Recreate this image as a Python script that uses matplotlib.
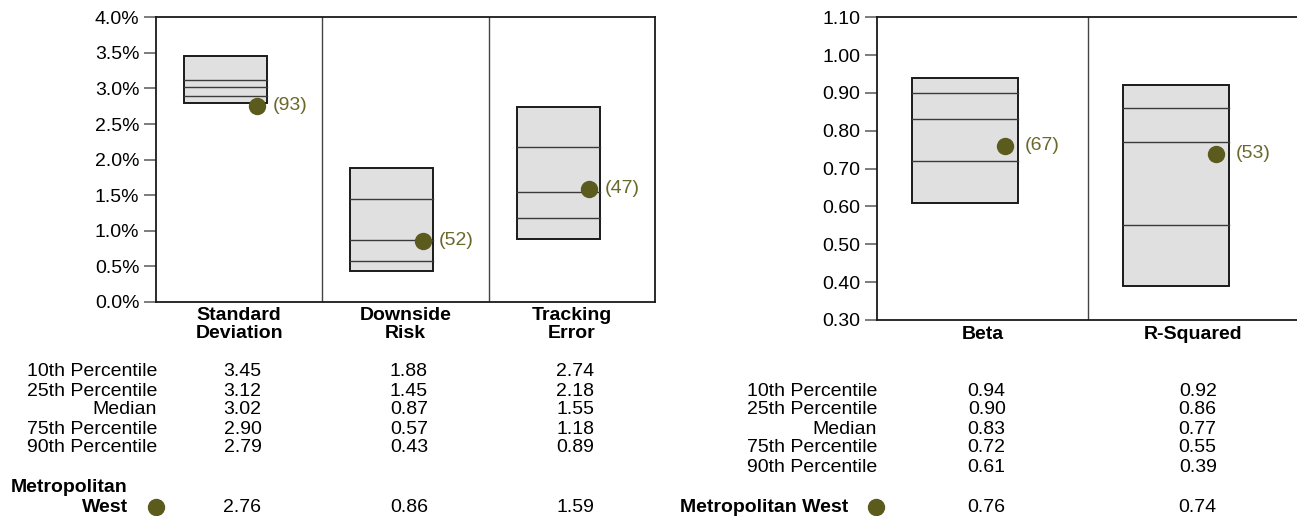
import matplotlib
matplotlib.use('Agg')
import matplotlib.pyplot as plt
from matplotlib.patches import Rectangle
from matplotlib import transforms

plt.rcParams['font.family'] = ['Liberation Sans', 'DejaVu Sans']

# 左图数据
risk_names = ['Standard\nDeviation', 'Downside\nRisk', 'Tracking\nError']
risk_p10 = [3.45, 1.88, 2.74]
risk_p25 = [3.12, 1.45, 2.18]
risk_med = [3.02, 0.87, 1.55]
risk_p75 = [2.90, 0.57, 1.18]
risk_p90 = [2.79, 0.43, 0.89]
risk_fund = [2.76, 0.86, 1.59]
risk_rank = [93, 52, 47]

# 右图数据
mkt_names = ['Beta', 'R-Squared']
mkt_p10 = [0.94, 0.92]
mkt_p25 = [0.90, 0.86]
mkt_med = [0.83, 0.77]
mkt_p75 = [0.72, 0.55]
mkt_p90 = [0.61, 0.39]
mkt_fund = [0.76, 0.74]
mkt_rank = [67, 53]

row_labels = ['10th Percentile', '25th Percentile', 'Median',
              '75th Percentile', '90th Percentile']
fund_name = 'Metropolitan West'

W, H = 1297, 516
DOT = '#5c5b1e'
LBL = '#6b682c'
FS = 14

fig = plt.figure(figsize=(W / 100, H / 100), dpi=100)


def fx(x):
    return x / W


def fy(y):
    return 1 - y / H


def draw_panel(ax, p10, p25, med, p75, p90, fund, rank, ymin, ymax, step, fmt):
    n = len(p10)
    ax.set_xlim(0, n)
    ax.set_ylim(ymin, ymax)
    for i in range(n):
        x0 = i + 0.168
        ax.add_patch(Rectangle((x0, p90[i]), 0.5, p10[i] - p90[i],
                               facecolor='#e0e0e0', edgecolor='#1a1a1a', lw=1.4, zorder=2))
        for v in (p25[i], med[i], p75[i]):
            ax.plot([x0, x0 + 0.5], [v, v], color='#3a3a3a', lw=1.0, zorder=3)
        ax.plot(i + 0.605, fund[i], 'o', color=DOT, ms=11.5, zorder=4)
        ax.text(i + 0.7, fund[i], '(%d)' % rank[i], color=LBL, fontsize=FS,
                va='center', ha='left', zorder=4)
    for i in range(1, n):
        ax.axvline(i, color='#444444', lw=1.0)
    ticks = [ymin + k * step for k in range(int(round((ymax - ymin) / step)) + 1)]
    ax.set_yticks(ticks)
    ax.set_yticklabels([fmt(t) for t in ticks], fontsize=FS)
    ax.set_xticks([])
    ax.tick_params(axis='y', length=9, width=1.2, color='#666666', pad=3)
    for s in ax.spines.values():
        s.set_color('#1a1a1a')
        s.set_linewidth(1.3)


# 左图
ax1 = fig.add_axes([fx(156), fy(302), fx(655 - 156), (302 - 17.3) / H])
draw_panel(ax1, risk_p10, risk_p25, risk_med, risk_p75, risk_p90,
           risk_fund, risk_rank, 0.0, 4.0, 0.5, lambda t: '%.1f%%' % t)

# 右图 (右边框超出画布)
ax2 = fig.add_axes([fx(877), fy(320), fx(1299 - 877), (320 - 17.3) / H])
draw_panel(ax2, mkt_p10, mkt_p25, mkt_med, mkt_p75, mkt_p90,
           mkt_fund, mkt_rank, 0.30, 1.10, 0.10, lambda t: '%.2f' % t)

# 类别标签
tr1 = transforms.blended_transform_factory(ax1.transData, fig.transFigure)
for i, name in enumerate(risk_names):
    ax1.text(i + 0.5, fy(307), name, transform=tr1, ha='center', va='top',
             fontsize=FS, fontweight='bold', linespacing=1.05)
tr2 = transforms.blended_transform_factory(ax2.transData, fig.transFigure)
for i, name in enumerate(mkt_names):
    ax2.text(i + 0.5, fy(326), name, transform=tr2, ha='center', va='top',
             fontsize=FS, fontweight='bold')


def draw_table(ax, tr, label_x, row0, rows_vals, fund, fund_y, fund_label_x, dot_x, two_line):
    for r, (lab, vals) in enumerate(zip(row_labels, rows_vals)):
        y = fy(row0 + r * 19)
        fig.text(fx(label_x), y, lab, ha='right', va='center', fontsize=FS)
        for i, v in enumerate(vals):
            ax.text(i + 0.52, y, '%.2f' % v, transform=tr, ha='center',
                    va='center', fontsize=FS)
    if two_line:
        fig.text(fx(fund_label_x), fy(fund_y - 20), 'Metropolitan', ha='right',
                 va='center', fontsize=FS, fontweight='bold')
        fig.text(fx(fund_label_x), fy(fund_y), 'West', ha='right',
                 va='center', fontsize=FS, fontweight='bold')
    else:
        fig.text(fx(fund_label_x), fy(fund_y), fund_name, ha='right',
                 va='center', fontsize=FS, fontweight='bold')
    fig.add_artist(plt.Line2D([fx(dot_x)], [fy(fund_y)], marker='o', color=DOT,
                              ms=11.5, transform=fig.transFigure))
    for i, v in enumerate(fund):
        ax.text(i + 0.52, fy(fund_y), '%.2f' % v, transform=tr, ha='center',
                va='center', fontsize=FS)


draw_table(ax1, tr1, 157, 372,
           [risk_p10, risk_p25, risk_med, risk_p75, risk_p90],
           risk_fund, 507, 128, 156, True)
draw_table(ax2, tr2, 877, 391,
           [mkt_p10, mkt_p25, mkt_med, mkt_p75, mkt_p90],
           mkt_fund, 507, 848, 876, False)

fig.savefig('out.png', dpi=100)
